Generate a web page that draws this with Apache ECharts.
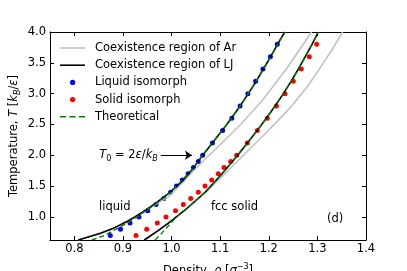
<!DOCTYPE html>
<html><head><meta charset="utf-8">
<script src="https://cdn.jsdelivr.net/npm/echarts@6/dist/echarts.min.js"></script>
<style>html,body{margin:0;padding:0;background:#fff}#c{width:407px;height:271px}</style>
</head><body><div id="c"></div>
<script>
// ---- data ----
const xTicks = [0.8, 0.9, 1.0, 1.1, 1.2, 1.3, 1.4];
const yTicks = [1.0, 1.5, 2.0, 2.5, 3.0, 3.5, 4.0];

const arLiqT   = [0.625, 0.81, 1.08, 1.32, 1.55, 1.76, 1.96, 2.17, 2.5, 2.9, 3.42, 4.0];
const arLiqRho = [0.808, 0.879, 0.941, 0.993, 1.022, 1.047, 1.072, 1.100, 1.142, 1.188, 1.238, 1.288];

const arSolT   = [0.625, 0.92, 1.14, 1.40, 1.70, 2.0, 2.33, 2.57, 2.8, 3.12, 3.41, 3.7, 4.0];
const arSolRho = [0.944, 0.997, 1.032, 1.071, 1.110, 1.148, 1.190, 1.220, 1.247, 1.280, 1.305, 1.329, 1.352];

const ljLiqT   = [0.625, 0.73, 0.81, 0.93, 1.0, 1.08, 1.22, 1.38, 1.58, 1.78, 2.0, 2.2, 2.4, 2.6, 2.8, 3.0, 3.2, 3.4, 3.6, 3.8, 4.0];
const ljLiqRho = [0.808, 0.853, 0.879, 0.910, 0.925, 0.941, 0.967, 0.994, 1.022, 1.044, 1.064, 1.084, 1.104, 1.123, 1.141, 1.158, 1.174, 1.189, 1.204, 1.218, 1.233];

const ljSolT   = [0.625, 0.77, 0.92, 1.14, 1.40, 1.70, 2.0, 2.2, 2.4, 2.6, 2.8, 3.0, 3.2, 3.4, 3.6, 3.8, 4.0];
const ljSolRho = [0.944, 0.971, 0.997, 1.032, 1.069, 1.104, 1.136, 1.156, 1.176, 1.195, 1.213, 1.230, 1.246, 1.261, 1.275, 1.289, 1.302];

const liqIsoT   = [0.7, 0.8, 0.9, 1.0, 1.1, 1.2, 1.3, 1.4, 1.5, 1.6, 1.7, 1.8, 1.9, 2.0, 2.2, 2.4, 2.6, 2.8, 3.0, 3.2, 3.4, 3.6, 3.8];
const liqIsoRho = [0.874, 0.895, 0.9145, 0.933, 0.951, 0.968, 0.984, 0.998, 1.010, 1.022, 1.034, 1.045, 1.055, 1.064, 1.084, 1.105, 1.124, 1.141, 1.157, 1.173, 1.188, 1.2033, 1.2175];

const solIsoT   = [0.7, 0.8, 0.9, 1.0, 1.1, 1.2, 1.3, 1.4, 1.5, 1.6, 1.7, 1.8, 1.9, 2.0, 2.2, 2.4, 2.6, 2.8, 3.0, 3.2, 3.4, 3.6, 3.8];
const solIsoRho = [0.9269, 0.9489, 0.9707, 0.9886, 1.0081, 1.0242, 1.0394, 1.055, 1.0688, 1.0826, 1.0962, 1.1079, 1.1217, 1.134, 1.1558, 1.1764, 1.197, 1.2157, 1.2333, 1.2504, 1.2669, 1.2833, 1.2985];

const thLiqT   = [0.625, 0.7, 0.8, 0.9, 1.0, 1.1, 1.2, 1.3, 1.4, 1.5, 1.6, 1.7, 1.8, 2.0, 2.2, 2.4, 2.6, 2.8, 3.0, 3.2, 3.4, 3.6, 3.8, 4.0];
const thLiqRho = [0.836, 0.862, 0.886, 0.908, 0.929, 0.947, 0.966, 0.982, 0.997, 1.010, 1.022, 1.034, 1.045, 1.064, 1.084, 1.104, 1.123, 1.141, 1.158, 1.174, 1.189, 1.204, 1.218, 1.233];

const thSolT   = [0.625, 0.72, 0.85, 1.0, 1.14, 1.40, 1.70, 2.0, 2.2, 2.4, 2.6, 2.8, 3.0, 3.2, 3.4, 3.6, 3.8, 4.0];
const thSolRho = [0.966, 0.978, 0.993, 1.010, 1.032, 1.069, 1.104, 1.136, 1.156, 1.176, 1.195, 1.213, 1.230, 1.246, 1.261, 1.275, 1.289, 1.302];

const arrowStart = [0.978, 2.0];
const arrowEnd   = [1.042, 2.0];

// ---- styles ----
const F = 'DejaVu Sans';
const FS = 11.5;
const GRAY = '#c0c0c0', BLACK = '#000000', BLUE = '#0000ff', RED = '#ff0000', GREEN = '#008000';
const NAME_AR = 'Coexistence region of Ar', NAME_LJ = 'Coexistence region of LJ',
      NAME_LIQ = 'Liquid isomorph', NAME_SOL = 'Solid isomorph', NAME_TH = 'Theoretical';

function pairs(x, y) { return x.map((v, i) => [v, y[i]]); }

const lineIcon = 'path://M0,0M30,14M0,6.2L25,6.2L25,7.8L0,7.8Z';
const dotIcon  = 'path://M0,0M30,14M10,7A2.6,2.6,0,1,1,15.2,7A2.6,2.6,0,1,1,10,7Z';
const dashIcon = 'path://M0,0M30,14M0,6.3L6,6.3L6,7.7L0,7.7ZM9.5,6.3L15.5,6.3L15.5,7.7L9.5,7.7ZM19,6.3L25,6.3L25,7.7L19,7.7Z';

function lineSeries(name, x, y, color, width, type) {
  return {
    name, type: 'line', data: pairs(x, y), showSymbol: false, symbol: 'none',
    smooth: false,
    lineStyle: { color, width, type: type || 'solid', join: 'round' }, itemStyle: { color },
    silent: true
  };
}

const rich = {
  n: { fontFamily: F, fontSize: FS, color: '#000', lineHeight: 16 },
  i: { fontFamily: F, fontSize: FS, fontStyle: 'italic', color: '#000', lineHeight: 16 },
  sub: { fontFamily: F, fontSize: 8, color: '#000', verticalAlign: 'bottom', lineHeight: 10 },
  subi: { fontFamily: F, fontSize: 8, fontStyle: 'italic', color: '#000', verticalAlign: 'bottom', lineHeight: 10 },
  sup: { fontFamily: F, fontSize: 8, color: '#000', verticalAlign: 'top', lineHeight: 10 }
};

const axisCommon = {
  type: 'value',
  axisLine: { show: true, onZero: false, lineStyle: { color: '#000', width: 1 } },
  axisTick: { show: true, inside: true, length: 4, lineStyle: { color: '#000', width: 1 } },
  splitLine: { show: false }
};

const chart = echarts.init(document.getElementById('c'), null, { renderer: 'canvas' });
const ljLiq = lineSeries(NAME_LJ, ljLiqRho, ljLiqT, BLACK, 1.6);
ljLiq.markLine = {
  silent: true, animation: false,
  symbol: ['none', 'arrow'], symbolSize: 7,
  lineStyle: { color: '#000', width: 1, type: 'solid' },
  label: {
    show: true, position: 'start', distance: 3,
    formatter: '{i|T}{sub|0}{n| = 2}{i|ε}{n|/}{i|k}{subi|B}',
    rich
  },
  data: [[{ coord: arrowStart }, { coord: arrowEnd }]]
};

chart.setOption({
  animation: false,
  backgroundColor: '#fff',
  textStyle: { fontFamily: F },
  grid: { left: 50, top: 32, right: 41, bottom: 31, containLabel: false, outerBoundsMode: 'none' },
  legend: {
    orient: 'vertical', left: 60, top: 41, padding: 0,
    itemWidth: 30, itemHeight: 14, itemGap: 3.2, selectedMode: false,
    textStyle: { fontFamily: F, fontSize: FS, color: '#000' },
    data: [
      { name: NAME_AR, icon: lineIcon, itemStyle: { color: GRAY, borderWidth: 0 } },
      { name: NAME_LJ, icon: lineIcon, itemStyle: { color: BLACK, borderWidth: 0 } },
      { name: NAME_LIQ, icon: dotIcon, itemStyle: { color: BLUE, borderWidth: 0, opacity: 1 } },
      { name: NAME_SOL, icon: dotIcon, itemStyle: { color: RED, borderWidth: 0, opacity: 1 } },
      { name: NAME_TH, icon: dashIcon, itemStyle: { color: GREEN, borderWidth: 0 } }
    ]
  },
  xAxis: [
    Object.assign({}, axisCommon, {
      position: 'bottom', min: 0.75, max: 1.4,
      name: '{n|Density, }{i|ρ}{n| [}{i|σ}{sup|−3}{n|]}',
      nameLocation: 'middle', nameGap: 23,
      nameTextStyle: { rich },
      axisTick: Object.assign({}, axisCommon.axisTick, { customValues: xTicks }),
      axisLabel: { customValues: xTicks, formatter: v => v.toFixed(1), margin: 3,
        fontFamily: F, fontSize: FS, color: '#000' }
    }),
    Object.assign({}, axisCommon, {
      position: 'top', min: 0.75, max: 1.4,
      axisTick: Object.assign({}, axisCommon.axisTick, { customValues: xTicks }),
      axisLabel: { show: false, customValues: xTicks }
    })
  ],
  yAxis: [
    Object.assign({}, axisCommon, {
      position: 'left', min: 0.625, max: 4.0,
      name: '{n|Temperature, }{i|T}{n| [}{i|k}{subi|B}{n|/}{i|ε}{n|]}',
      nameLocation: 'middle', nameGap: 28, nameRotate: 90, nameMoveOverlap: false,
      nameTextStyle: { rich },
      axisTick: Object.assign({}, axisCommon.axisTick, { customValues: yTicks }),
      axisLabel: { customValues: yTicks, formatter: v => v.toFixed(1), margin: 4,
        fontFamily: F, fontSize: FS, color: '#000' }
    }),
    Object.assign({}, axisCommon, {
      position: 'right', min: 0.625, max: 4.0,
      axisTick: Object.assign({}, axisCommon.axisTick, { customValues: yTicks }),
      axisLabel: { show: false, customValues: yTicks }
    })
  ],
  series: [
    lineSeries(NAME_AR, arLiqRho, arLiqT, GRAY, 1.5),
    lineSeries(NAME_AR, arSolRho, arSolT, GRAY, 1.5),
    ljLiq,
    lineSeries(NAME_LJ, ljSolRho, ljSolT, BLACK, 1.6),
    { name: NAME_LIQ, type: 'scatter', data: pairs(liqIsoRho, liqIsoT), symbol: 'circle', symbolSize: 5,
      itemStyle: { color: BLUE, opacity: 1 }, silent: true },
    { name: NAME_SOL, type: 'scatter', data: pairs(solIsoRho, solIsoT), symbol: 'circle', symbolSize: 5,
      itemStyle: { color: RED, opacity: 1 }, silent: true },
    lineSeries(NAME_TH, thLiqRho, thLiqT, GREEN, 1.4, [5, 3]),
    lineSeries(NAME_TH, thSolRho, thSolT, GREEN, 1.4, [5, 3])
  ],
  graphic: [
    { type: 'text', x: 99, y: 207, silent: true,
      style: { text: 'liquid', font: FS + 'px "DejaVu Sans"', fill: '#000', align: 'left', verticalAlign: 'middle' } },
    { type: 'text', x: 211, y: 207, silent: true,
      style: { text: 'fcc solid', font: FS + 'px "DejaVu Sans"', fill: '#000', align: 'left', verticalAlign: 'middle' } },
    { type: 'text', x: 327, y: 219, silent: true,
      style: { text: '(d)', font: FS + 'px "DejaVu Sans"', fill: '#000', align: 'left', verticalAlign: 'middle' } }
  ]
});
</script>
</body></html>
